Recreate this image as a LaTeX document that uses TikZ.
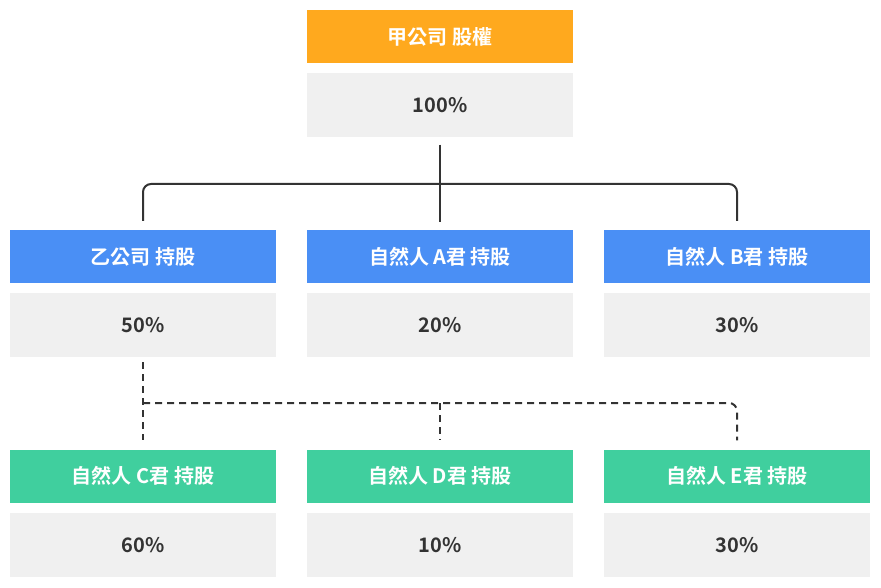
\documentclass[tikz,border=0pt]{standalone}
\usepackage{fontspec}
\setmainfont{Noto Sans CJK TC}[BoldFont={* Bold}]
\begin{document}
\begin{tikzpicture}[x=1pt,y=-1pt,
  box/.style={minimum width=266pt,inner sep=0pt,font=\bfseries\fontsize{20}{24}\selectfont},
  hd/.style={box,minimum height=53pt,text=white},
  val/.style={box,minimum height=64pt,fill=valgray,text=txt},
  line/.style={draw=txt,line width=2pt,rounded corners=8pt},
  dline/.style={line,dash pattern=on 7pt off 5pt}]
\definecolor{org}{HTML}{FFA91E}
\definecolor{blu}{HTML}{4A8FF5}
\definecolor{grn}{HTML}{40CF9E}
\definecolor{valgray}{HTML}{F0F0F0}
\definecolor{txt}{HTML}{333333}
\useasboundingbox (0,0) rectangle (881,588);
\node[hd,fill=org] (top) at (440,36.5) {甲公司 股權};
\node[val] (topv) at (440,105.5) {100\%};
\node[hd,fill=blu] (b1) at (143,256.5) {乙公司 持股};
\node[hd,fill=blu] (b2) at (440,256.5) {自然人 A君 持股};
\node[hd,fill=blu] (b3) at (737,256.5) {自然人 B君 持股};
\node[val] (b1v) at (143,325) {50\%};
\node[val] (b2v) at (440,325) {20\%};
\node[val] (b3v) at (737,325) {30\%};
\node[hd,fill=grn] (c1) at (143,476) {自然人 C君 持股};
\node[hd,fill=grn] (c2) at (440,476) {自然人 D君 持股};
\node[hd,fill=grn] (c3) at (737,476) {自然人 E君 持股};
\node[val] (c1v) at (143,545) {60\%};
\node[val] (c2v) at (440,545) {10\%};
\node[val] (c3v) at (737,545) {30\%};
\coordinate (j) at (440,184);
\draw[line] ([yshift=-7pt]topv.south) -- (j);
\draw[line] (j) -| ([yshift=9pt]b1.north);
\draw[line] (j) -| ([yshift=9pt]b3.north);
\draw[line] (j) -- ([yshift=8pt]b2.north);
\coordinate (k) at (143,403);
\draw[dline,rounded corners=0pt] ([yshift=-5pt]b1v.south) -- ([yshift=9pt]c1.north);
\draw[dline] (k) -| ([yshift=9pt]c3.north);
\draw[dline] (440,403) -- ([yshift=9pt]c2.north);
\end{tikzpicture}
\end{document}
